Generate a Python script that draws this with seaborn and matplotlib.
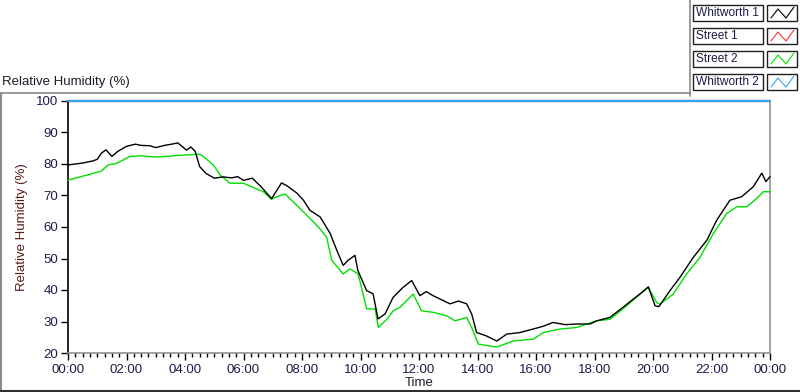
import numpy as np
import pandas as pd
import matplotlib
matplotlib.use("Agg")
import matplotlib.pyplot as plt
from matplotlib.patches import Rectangle
from matplotlib.lines import Line2D
from matplotlib.ticker import FuncFormatter, MultipleLocator
import seaborn as sns

# ---------------- data (hours since midnight, % RH) ----------------
series_names = ["Whitworth 1", "Street 1", "Street 2", "Whitworth 2"]
series_colors = ["#000000", "#ff3030", "#00e000", "#30a8f0"]

w1_hours = [0.0, 0.5, 0.86, 1.0, 1.15, 1.3, 1.5, 1.7, 2.0, 2.3, 2.5, 2.8, 3.0, 3.3, 3.6,
            3.75, 3.9, 4.05, 4.2, 4.35, 4.5, 4.72, 5.0, 5.3, 5.6, 5.8, 6.0, 6.3, 6.6,
            6.96, 7.3, 7.5, 7.82, 8.05, 8.27, 8.62, 8.96, 9.19, 9.41, 9.57, 9.81, 9.91,
            10.21, 10.43, 10.6, 10.84, 11.11, 11.45, 11.75, 12.03, 12.25, 12.48, 12.75,
            13.06, 13.35, 13.63, 13.8, 13.97, 14.31, 14.66, 15.0, 15.45, 15.9, 16.25,
            16.58, 17.0, 17.39, 17.85, 18.07, 18.53, 18.97, 19.56, 19.84, 20.07, 20.2,
            20.58, 20.92, 21.38, 21.84, 22.18, 22.63, 23.03, 23.43, 23.72, 23.86, 24.0]
w1_values = [79.7, 80.3, 81.0, 81.5, 83.5, 84.5, 82.4, 84.0, 85.6, 86.3, 85.9, 85.8, 85.2,
             85.9, 86.4, 86.7, 85.6, 84.4, 85.4, 84.0, 79.2, 77.0, 75.5, 75.9, 75.6, 76.0,
             74.8, 75.5, 72.8, 69.0, 74.0, 73.0, 70.8, 68.5, 65.3, 63.2, 58.0, 52.6, 47.8,
             49.4, 51.0, 46.2, 39.8, 38.8, 30.8, 32.4, 37.6, 40.8, 43.0, 38.2, 39.5, 38.2,
             37.0, 35.6, 36.5, 35.6, 32.4, 26.5, 25.4, 23.8, 26.0, 26.5, 27.6, 28.5, 29.7,
             29.0, 29.2, 29.2, 30.2, 31.3, 34.5, 38.8, 41.0, 35.0, 34.7, 39.8, 44.0, 50.4,
             55.8, 62.2, 68.5, 69.6, 72.8, 77.1, 74.4, 76.0]

s2_hours = [0.0, 0.86, 1.15, 1.37, 1.66, 2.12, 2.46, 3.03, 3.6, 4.06, 4.51, 4.62, 4.97,
            5.2, 5.54, 5.99, 6.68, 6.96, 7.13, 7.42, 7.82, 8.22, 8.56, 8.84, 9.02, 9.41,
            9.64, 9.92, 10.21, 10.5, 10.61, 10.9, 11.12, 11.35, 11.8, 12.09, 12.49, 12.95,
            13.23, 13.63, 13.8, 14.03, 14.66, 15.22, 15.91, 16.25, 16.82, 17.39, 17.73,
            18.07, 18.53, 18.97, 19.56, 19.84, 20.13, 20.24, 20.69, 21.15, 21.61, 22.06,
            22.52, 22.86, 23.2, 23.54, 23.77, 24.0]
s2_values = [74.9, 77.0, 77.8, 79.7, 80.2, 82.4, 82.6, 82.2, 82.6, 82.9, 83.1, 82.4, 79.7,
             76.5, 73.9, 73.9, 71.2, 68.8, 69.6, 70.5, 66.9, 63.2, 60.0, 56.8, 49.4, 45.1,
             46.7, 45.1, 34.0, 34.0, 28.1, 30.7, 33.4, 34.5, 38.7, 33.4, 32.9, 31.8, 30.2,
             31.3, 28.1, 22.8, 21.9, 23.8, 24.4, 26.5, 27.6, 28.1, 29.2, 30.2, 30.7, 34.0,
             38.7, 40.8, 36.0, 35.5, 38.7, 45.1, 50.4, 57.9, 64.3, 66.4, 66.4, 69.0, 71.2,
             71.2]

# Street 1 and Whitworth 2 sit on the 100 % ceiling for the whole day
s1_hours = [0.0, 24.0]
s1_values = [100.0, 100.0]
w2_hours = [0.0, 24.0]
w2_values = [100.0, 100.0]

y_ticks = [20, 30, 40, 50, 60, 70, 80, 90, 100]
x_tick_hours = [0, 2, 4, 6, 8, 10, 12, 14, 16, 18, 20, 22, 24]

frames = []
for name, hrs, vals in [("Street 1", s1_hours, s1_values),
                        ("Whitworth 2", w2_hours, w2_values),
                        ("Street 2", s2_hours, s2_values),
                        ("Whitworth 1", w1_hours, w1_values)]:
    frames.append(pd.DataFrame({"hours": hrs, "rh": vals, "series": name}))
df = pd.concat(frames, ignore_index=True)

# ---------------- figure ----------------
sns.set_style("white")
plt.rcParams["font.family"] = ["Liberation Sans", "DejaVu Sans"]
W, H = 800, 392
fig = plt.figure(figsize=(W / 100, H / 100), dpi=100)

def fx(x):
    return x / W

def fy(y):
    return 1 - y / H

ax_l, ax_r, ax_t, ax_b = 68, 770, 101, 353
ax = fig.add_axes([fx(ax_l), fy(ax_b), fx(ax_r) - fx(ax_l), fy(ax_t) - fy(ax_b)])

palette = dict(zip(series_names, series_colors))
sns.lineplot(data=df, x="hours", y="rh", hue="series", palette=palette,
             hue_order=["Street 1", "Whitworth 2", "Street 2", "Whitworth 1"],
             linewidth=1.0, legend=False, ax=ax, estimator=None, sort=True)
for ln in ax.lines:
    ln.set_clip_on(False)
    ln.set_zorder(5)
    yd = np.asarray(ln.get_ydata(), dtype=float)
    if yd.size and np.all(yd >= 99.9):
        ln.set_linewidth(1.6)

ax.set_xlim(0, 24)
ax.set_ylim(20, 100)
ax.set_yticks(y_ticks)
ax.set_xticks(x_tick_hours)
ax.xaxis.set_minor_locator(MultipleLocator(0.25))
ax.xaxis.set_major_formatter(FuncFormatter(lambda v, p: f"{int(round(v)) % 24:02d}:00"))

tick_color = "#1c1c4a"
ax.tick_params(axis="y", which="major", direction="out", length=5, width=1,
               color="black", labelsize=9.5, labelcolor=tick_color, pad=2, left=True)
ax.tick_params(axis="x", which="major", direction="out", length=5, width=1,
               color="black", labelsize=9.5, labelcolor=tick_color, pad=3, bottom=True)
ax.tick_params(axis="x", which="minor", direction="out", length=3, width=1,
               color="black", bottom=True)

ax.set_xlabel("Time", fontsize=9.5, color="#1c1c2a", labelpad=1)
ax.set_ylabel("Relative Humidity (%)", fontsize=9.5, color="#5a1a1a", labelpad=6)

ax.spines["left"].set_color("black")
ax.spines["left"].set_linewidth(1.2)
ax.spines["bottom"].set_color("#909090")
ax.spines["right"].set_color("#909090")
ax.spines["top"].set_visible(False)
for s in ["bottom", "right"]:
    ax.spines[s].set_linewidth(1.2)

# ---------------- panel decoration ----------------
fig.text(fx(2), fy(82), "Relative Humidity (%)", fontsize=9.5, color="#1c1c2a",
         ha="left", va="center")
gray = "#8a8a8a"
fig.add_artist(Line2D([fx(0), fx(690)], [fy(93), fy(93)], color=gray, lw=1.2))
fig.add_artist(Line2D([fx(690), fx(690)], [fy(0), fy(96)], color=gray, lw=1.2))
fig.add_artist(Line2D([fx(0.8), fx(0.8)], [fy(93), fy(390)], color=gray, lw=1.5))
fig.add_artist(Line2D([fx(0), fx(800)], [fy(390.5), fy(390.5)], color="#303030", lw=1.5))

# ---------------- legend (LabVIEW style) ----------------
row_centers = [13, 36, 59, 82]
for name, col, yc in zip(series_names, series_colors, row_centers):
    y0 = yc - 8
    fig.add_artist(Rectangle((fx(693), fy(y0 + 16)), fx(763) - fx(693), fy(y0) - fy(y0 + 16),
                             fill=True, facecolor="white", edgecolor="#202020", lw=1.0,
                             transform=fig.transFigure))
    fig.text(fx(696), fy(yc), name, fontsize=8.6, color=tick_color, ha="left", va="center")
    fig.add_artist(Rectangle((fx(767), fy(y0 + 16)), fx(797) - fx(767), fy(y0) - fy(y0 + 16),
                             fill=True, facecolor="white", edgecolor="#202020", lw=1.0,
                             transform=fig.transFigure))
    zx = [771, 778, 786, 794]
    zy = [yc + 5, yc - 4, yc + 5, yc - 6]
    fig.add_artist(Line2D([fx(v) for v in zx], [fy(v) for v in zy], color=col, lw=0.8))

fig.savefig("out.png", dpi=100, facecolor="white")
